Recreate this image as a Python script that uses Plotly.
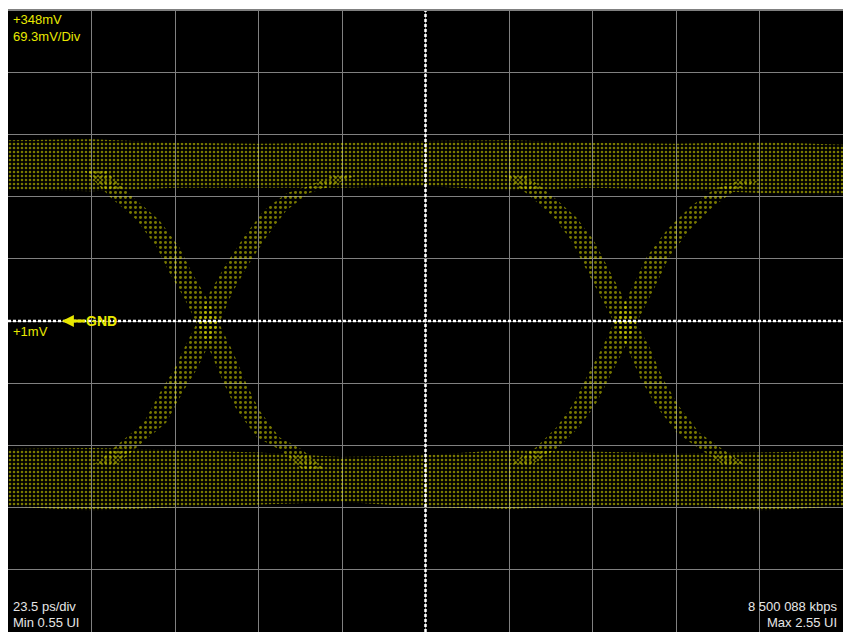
import plotly.graph_objects as go

# scope settings
x_min_ui = 0.55
x_max_ui = 2.55
ui_per_div = 0.2
top_mv = 348
bottom_mv = -345
mv_per_div = 69.3
gnd_mv = 1.5

# rails of the eye: envelope of the dot cloud at these UI positions
rail_x = [0.55, 0.75, 0.95, 1.15, 1.35, 1.55, 1.75, 1.95, 2.15, 2.35, 2.55]
high_top = [203, 204, 200, 199, 200, 202, 203, 200, 199, 201, 198]
high_bottom = [148, 146, 150, 150, 150, 152, 147, 150, 148, 144, 142]
low_top = [-141, -140, -142, -145, -150, -148, -142, -144, -146, -145, -143]
low_bottom = [-205, -210, -206, -203, -200, -206, -208, -204, -204, -210, -205]

# transition centre lines (UI, mV)
fall1_x = [0.758, 0.821, 0.885, 0.933, 0.964, 0.998, 1.029, 1.060, 1.094, 1.125, 1.173, 1.228, 1.285]
fall1_y = [170, 140, 114, 84, 55, 28, -1, -31, -68, -98, -128, -142, -165]
rise1_x = [0.782, 0.845, 0.902, 0.940, 0.974, 1.005, 1.029, 1.060, 1.101, 1.142, 1.190, 1.245, 1.293, 1.357]
rise1_y = [-159, -134, -112, -79, -53, -23, -1, 33, 66, 95, 125, 144, 151, 164]
fall2_x = [1.764, 1.829, 1.884, 1.925, 1.963, 1.997, 2.028, 2.059, 2.093, 2.131, 2.179, 2.227, 2.291]
fall2_y = [164, 140, 117, 92, 58, 28, -1, -27, -64, -94, -123, -139, -159]
rise2_x = [1.776, 1.843, 1.891, 1.932, 1.963, 1.997, 2.028, 2.069, 2.107, 2.155, 2.212, 2.267, 2.332]
rise2_y = [-159, -139, -117, -90, -61, -31, -1, 36, 73, 103, 129, 148, 159]

dot_yellow = "#f2f200"
label_yellow = "#e8e800"
label_grey = "#e6e6e6"


def dotted_fill(xs, ys, size, solidity):
    """
    Closed polygon drawn with a dot pattern fill so it reads like sampled points
    """
    return go.Scatter(x=xs, y=ys, mode="lines", fill="toself", line=dict(width=0),
                      fillcolor="rgba(0,0,0,0)", hoverinfo="skip", showlegend=False,
                      fillpattern=dict(shape=".", fgcolor=dot_yellow, bgcolor="rgba(0,0,0,0)",
                                       size=size, solidity=solidity))


def rail_trace(top, bottom):
    return dotted_fill(rail_x + rail_x[::-1], top + bottom[::-1], 4, 0.34)


def transition_trace(xs, ys, half_width=0.027):
    left = [x - half_width for x in xs]
    right = [x + half_width for x in xs]
    return dotted_fill(left + right[::-1], ys + ys[::-1], 5, 0.28)


fig = go.Figure()
fig.add_trace(rail_trace(high_top, high_bottom))
fig.add_trace(rail_trace(low_top, low_bottom))
for tx, ty in [(fall1_x, fall1_y), (rise1_x, rise1_y), (fall2_x, fall2_y), (rise2_x, rise2_y)]:
    fig.add_trace(transition_trace(tx, ty))

# centre cross-hair, white dotted
fig.add_shape(type="line", xref="x", yref="y", x0=x_min_ui, x1=x_max_ui, y0=gnd_mv, y1=gnd_mv,
              line=dict(color="white", width=2.5, dash="3px,2px"), layer="above")
fig.add_shape(type="line", xref="x", yref="y", x0=(x_min_ui + x_max_ui) / 2, x1=(x_min_ui + x_max_ui) / 2,
              y0=bottom_mv, y1=top_mv, line=dict(color="white", width=2.5, dash="3px,2px"), layer="above")
fig.add_shape(type="line", xref="paper", yref="paper", x0=0, x1=1, y0=1, y1=1,
              line=dict(color="#808080", width=2))

font = dict(family="Liberation Sans, Arial, sans-serif", size=13)
texts = [
    ("+348mV", 0.003, 1.0, "left", "top", label_yellow),
    ("69.3mV/Div", 0.003, 0.9725, "left", "top", label_yellow),
    ("23.5 ps/div", 0.003, 0.026, "left", "bottom", label_grey),
    ("Min 0.55 UI", 0.003, 0.0, "left", "bottom", label_grey),
    ("8 500 088 kbps", 0.995, 0.026, "right", "bottom", label_grey),
    ("Max 2.55 UI", 0.995, 0.0, "right", "bottom", label_grey),
]
for txt, x, y, xa, ya, col in texts:
    fig.add_annotation(text=txt, x=x, y=y, xref="paper", yref="paper", xanchor=xa, yanchor=ya,
                       showarrow=False, font=dict(font, color=col))

fig.add_annotation(text="+1mV", x=0.003, y=gnd_mv, xref="paper", yref="y", xanchor="left", yanchor="top",
                   yshift=-1, showarrow=False, font=dict(font, color=label_yellow))
fig.add_annotation(text="<b>GND</b>", x=0.679, y=gnd_mv, xref="x", yref="y", ax=40, ay=0,
                   showarrow=True, arrowhead=2, arrowsize=0.8, arrowwidth=3, arrowcolor=label_yellow,
                   font=dict(family="Liberation Sans, Arial, sans-serif", size=14, color=label_yellow),
                   standoff=0)

fig.update_xaxes(range=[x_min_ui, x_max_ui], tick0=x_min_ui, dtick=ui_per_div, showgrid=True,
                 gridcolor="#808080", gridwidth=1, showticklabels=False, zeroline=False, ticks="")
fig.update_yaxes(range=[bottom_mv, top_mv], tick0=top_mv, dtick=mv_per_div, showgrid=True,
                 gridcolor="#808080", gridwidth=1, showticklabels=False, zeroline=False, ticks="")
fig.update_layout(width=843, height=632, margin=dict(l=8, r=0, t=10, b=0),
                  paper_bgcolor="white", plot_bgcolor="black", showlegend=False)

# page has a default body margin; drop it so the figure sits at the window origin
fig.write_html("out.html", config={"displayModeBar": False},
               post_script="document.body.style.margin='0';document.body.style.overflow='hidden';")
